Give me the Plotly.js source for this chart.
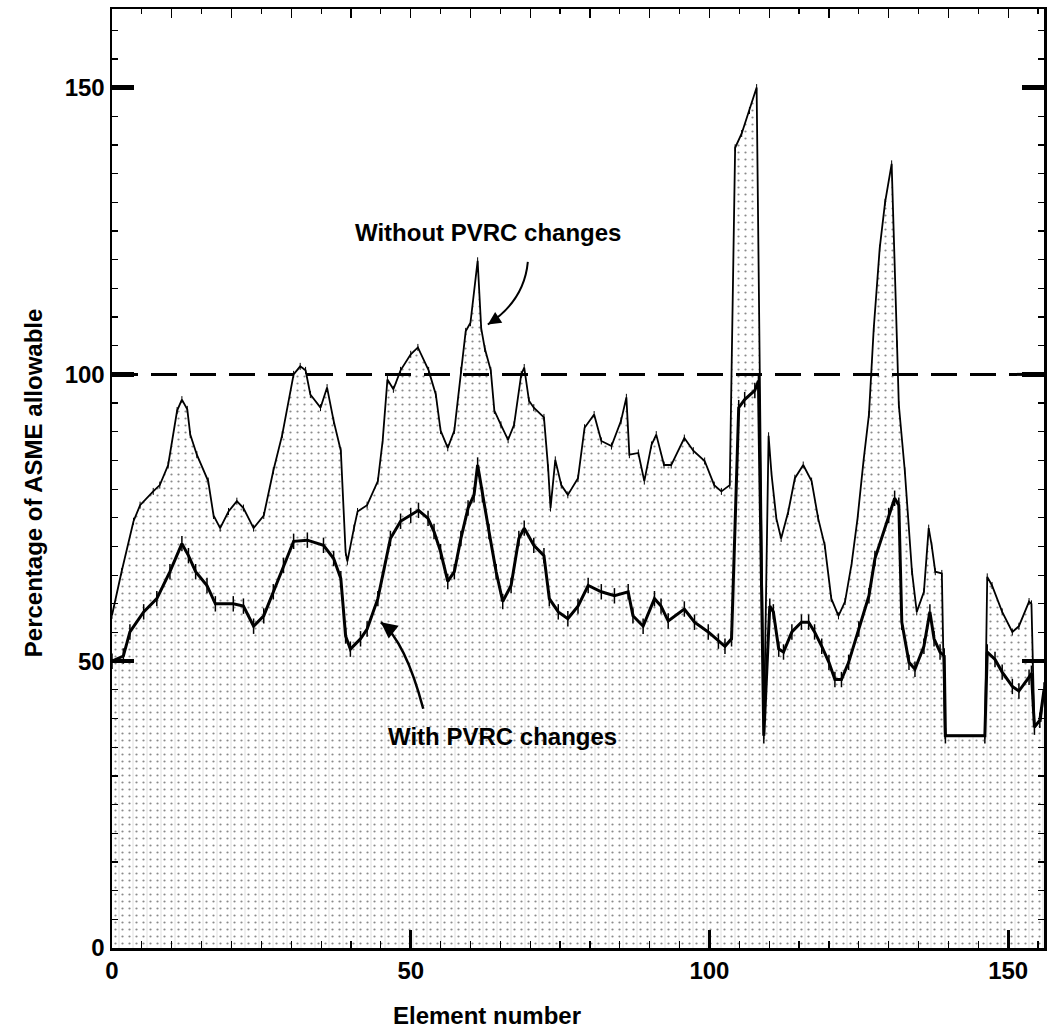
<!DOCTYPE html>
<html>
<head>
<meta charset="utf-8">
<script src="https://cdn.plot.ly/plotly-3.0.1.min.js"></script>
<style>
  html, body { margin: 0; padding: 0; background: #ffffff; }
  #chart { width: 1050px; height: 1035px; }
</style>
</head>
<body>
<div id="chart"></div>
<script>
// ---- Data: "Without PVRC changes" (upper curve) ----
const withoutX = [0, 1.6, 3.6, 4.7, 6.9, 8, 9.4, 10.9, 11.7, 12.6,
  13.1, 14.2, 16.1, 17, 18.1, 19.5, 20.9, 22, 23.7, 25.4,
  27, 28.5, 30.4, 31.5, 32.4, 33.2, 34.9, 36, 37.1, 38.3,
  39.1, 39.4, 40.5, 41.1, 42.7, 44.5, 45.3, 46.1, 47.1, 48.3,
  50, 51.2, 53, 54.2, 55, 56.2, 57.3, 58.4, 59.2, 60,
  61.2, 61.8, 62.4, 63.4, 64, 65.1, 66.3, 67.3, 68.5, 69,
  69.8, 70.6, 72.3, 73, 73.4, 74.2, 75.2, 76.3, 78, 79.1,
  80.7, 81.9, 83.6, 85.2, 86.1, 86.6, 88.1, 89.1, 90.3, 91.1,
  92.4, 93.6, 95.8, 97.3, 99.2, 100.8, 102, 103.4, 104.3, 105.4,
  106.7, 107.9, 109.1, 109.9, 110.4, 111.2, 112, 113.2, 114.3, 115.7,
  117.1, 118.2, 119.3, 120.4, 121.6, 122.7, 123.8, 124.8, 125.8, 126.7,
  127.5, 128.5, 129.4, 130.5, 131.4, 131.7, 132.7, 133.9, 134.7, 135.9,
  136.7, 137.2, 137.8, 138.9, 139.4, 146.1, 146.5, 147.3, 149, 150.7,
  151.8, 153.5, 153.9, 154.4, 155.5, 156];
const withoutY = [58, 65.6, 74.4, 77.2, 79.6, 80.7, 84.2, 93.7, 95.6, 93.9,
  89.5, 86, 81.4, 75.4, 73.2, 76.1, 77.9, 76.7, 73.2, 75.4,
  83.2, 89.5, 100, 101.4, 100.7, 96.5, 94.2, 97.7, 91.9, 86.7,
  69, 67.4, 73.2, 76.1, 77.2, 81.4, 88.4, 99.1, 97.4, 100.7,
  103.5, 104.7, 100.7, 96.5, 90.2, 87.2, 90.2, 100.7, 107.5, 109,
  119.8, 108, 104.5, 100.7, 93.7, 91.2, 88.6, 91.2, 100, 101.2,
  95.4, 94.2, 92.5, 83.7, 76.7, 85.1, 80.7, 79, 81.9, 90.7,
  93, 88.4, 87.5, 91.9, 96, 86, 86.3, 81.4, 87.7, 89.5,
  84.2, 84.2, 88.9, 86.7, 84.9, 80.7, 79.6, 80.7, 139.5, 142,
  146, 150, 37, 89.3, 82.5, 74.9, 71.4, 76.1, 81.9, 84.2,
  81.4, 74.9, 70.2, 60.9, 57.9, 60.4, 67, 75, 85, 93,
  108, 122, 130, 136.7, 105.3, 94.7, 83.2, 65.6, 58.6, 62.1,
  73.2, 70.2, 65.6, 65.3, 37, 37, 64.7, 63.2, 58.6, 55.1,
  56.1, 60.4, 60, 38.5, 40, 45];

// ---- Data: "With PVRC changes" (lower curve) ----
const withX = [0, 1.9, 3, 5.3, 7.5, 9.7, 11.7, 12.8, 14, 15.9,
  17.3, 20.3, 22, 23.7, 25.4, 27, 28.7, 30.4, 32.7, 35.4,
  37.1, 38.3, 39.1, 39.9, 41.6, 42.7, 44.5, 46.6, 48.3, 50,
  51.3, 52.9, 53.9, 55, 56.2, 57.3, 58.4, 59.6, 60.6, 61.2,
  62, 63.1, 64.3, 65.4, 66.8, 68.1, 69, 70.6, 72.3, 73.2,
  74.7, 76.3, 78, 79.7, 81.9, 84.1, 86.4, 87.2, 88.9, 90.8,
  91.9, 93.1, 95.8, 97.5, 99.8, 101.5, 102.6, 103.7, 104.9, 105.9,
  107.6, 108.2, 109.1, 110.1, 110.7, 111.6, 112.4, 113.8, 115.4, 116.6,
  117.6, 118.8, 120, 121, 122.1, 123.3, 125, 126.7, 127.7, 130,
  131, 131.7, 132.2, 133.4, 134.4, 135.9, 136.9, 137.6, 138.6, 139.3,
  139.5, 146.1, 146.5, 147.8, 149, 150.7, 151.8, 153.5, 153.9, 154.4,
  155.3, 156];
const withY = [50, 50.9, 55.1, 58.6, 60.9, 65.6, 70.5, 68.4, 65.6, 63.2,
  60, 60, 59.6, 56.1, 57.9, 62.1, 66.7, 70.9, 71.1, 70.2,
  67.9, 64.4, 54.4, 52.1, 53.9, 55.6, 60.9, 71.4, 74.4, 75.4,
  76.3, 74.9, 72.6, 69.1, 63.9, 65.6, 71.4, 76.7, 79, 84.2,
  79, 72.6, 65.6, 60.4, 63.2, 71.4, 73.2, 70.2, 68.4, 60.9,
  58.6, 57.4, 59.6, 63.2, 62.1, 61.4, 62.1, 57.9, 56.1, 60.9,
  59.6, 57, 59.1, 56.8, 55.1, 53.5, 52.6, 53.9, 94.2, 95.6,
  97.2, 98.9, 37, 59.6, 58.6, 52.1, 51.6, 55.1, 56.8, 56.8,
  55.1, 52.6, 49.8, 46.8, 46.8, 49.8, 55.6, 61.4, 67.9, 75.4,
  78.4, 77.2, 56.8, 49.8, 48.6, 52.6, 58.6, 53.9, 51.6, 50.9,
  37, 37, 51.6, 50.3, 48.1, 45.6, 44.8, 47.2, 47.9, 38.5,
  39.7, 45];

// ---- Axes / labels ----
const xRange = [0, 156];
const yRange = [0, 163.7];
const majorTicks = [0, 50, 100, 150];
const majorTickText = ['0', '50', '100', '150'];
const rightTicks = [50, 100, 150];
const allowableLimit = 100;
const labelWithout = 'Without PVRC changes';
const labelWith = 'With PVRC changes';
const xTitle = 'Element number';
const yTitle = 'Percentage of ASME allowable';

const FONT = '"Liberation Sans", Arial, sans-serif';

const traces = [
  {
    x: withoutX, y: withoutY, type: 'scatter', mode: 'lines+markers',
    line: { color: '#000', width: 1.8 },
    marker: { symbol: 'line-ns-open', size: 5, color: '#000', line: { color: '#000', width: 1 } },
    fill: 'tozeroy', fillcolor: 'rgba(0,0,0,0)',
    fillpattern: { shape: '.', fgcolor: '#8a8a8a', bgcolor: 'rgba(0,0,0,0)', size: 7, solidity: 0.08 },
    hoverinfo: 'skip', showlegend: false
  },
  {
    x: withX, y: withY, type: 'scatter', mode: 'lines+markers',
    line: { color: '#000', width: 3 },
    marker: { symbol: 'line-ns-open', size: 11, color: '#000', line: { color: '#000', width: 1.5 } },
    fill: 'tozeroy', fillcolor: 'rgba(0,0,0,0)',
    fillpattern: { shape: '|', fgcolor: '#c4c4c4', bgcolor: 'rgba(0,0,0,0)', size: 14, solidity: 0.04 },
    hoverinfo: 'skip', showlegend: false
  },
  {
    x: [xRange[0]], y: [yRange[0]], xaxis: 'x2', yaxis: 'y2', type: 'scatter', mode: 'markers',
    marker: { opacity: 0 }, hoverinfo: 'skip', showlegend: false
  }
];

const layout = {
  width: 1050, height: 1035,
  margin: { l: 112, r: 6, t: 9, b: 87 },
  paper_bgcolor: '#fff', plot_bgcolor: '#fff',
  showlegend: false,
  xaxis: {
    range: xRange, showgrid: false, zeroline: false,
    showline: true, linecolor: '#000', linewidth: 2.5,
    tickmode: 'array', tickvals: majorTicks, ticktext: majorTickText,
    ticks: 'inside', ticklen: 18, tickwidth: 3, tickcolor: '#000',
    minor: { ticks: 'inside', dtick: 5, tick0: 0, ticklen: 7, tickwidth: 1.2, tickcolor: '#000', showgrid: false },
    tickfont: { family: FONT, size: 24, weight: 700, color: '#000' }
  },
  xaxis2: {
    overlaying: 'x', side: 'top', range: xRange, showgrid: false, zeroline: false,
    showline: true, linecolor: '#000', linewidth: 2.5,
    tickmode: 'linear', tick0: 0, dtick: 10, ticks: 'inside', ticklen: 9, tickwidth: 1.2, tickcolor: '#000',
    minor: { ticks: 'inside', dtick: 5, tick0: 0, ticklen: 5, tickwidth: 1.2, tickcolor: '#000', showgrid: false },
    showticklabels: false
  },
  yaxis: {
    range: yRange, showgrid: false, zeroline: false,
    showline: true, linecolor: '#000', linewidth: 2.5,
    tickmode: 'array', tickvals: majorTicks, ticktext: majorTickText,
    ticks: 'inside', ticklen: 22, tickwidth: 4.5, tickcolor: '#000',
    minor: { ticks: 'inside', dtick: 5, tick0: 0, ticklen: 6, tickwidth: 1.2, tickcolor: '#000', showgrid: false },
    tickfont: { family: FONT, size: 24, weight: 700, color: '#000' }
  },
  yaxis2: {
    overlaying: 'y', side: 'right', range: yRange, showgrid: false, zeroline: false,
    showline: true, linecolor: '#000', linewidth: 2.5,
    tickmode: 'array', tickvals: rightTicks,
    ticks: 'inside', ticklen: 22, tickwidth: 4.5, tickcolor: '#000',
    minor: { ticks: 'inside', dtick: 5, tick0: 0, ticklen: 6, tickwidth: 1.2, tickcolor: '#000', showgrid: false },
    showticklabels: false
  },
  shapes: [
    { type: 'line', xref: 'paper', x0: 0, x1: 1, yref: 'y', y0: allowableLimit, y1: allowableLimit,
      line: { color: '#000', width: 3, dash: '26px,13px' } },
    { type: 'path', xref: 'x', yref: 'y', path: 'M 69.6,119.6 Q 69,112.8 62.9,108.7',
      line: { color: '#000', width: 2 } },
    { type: 'path', xref: 'x', yref: 'y', path: 'M 52.1,41.7 Q 49.1,53.5 45,56.8',
      line: { color: '#000', width: 2.5 } }
  ],
  annotations: [
    { text: labelWithout, xref: 'x', yref: 'y', x: 62.9, y: 124.8, showarrow: false,
      xanchor: 'center', yanchor: 'middle', font: { family: FONT, size: 24, weight: 700, color: '#000' } },
    { text: labelWith, xref: 'x', yref: 'y', x: 65.4, y: 36.8, showarrow: false,
      xanchor: 'center', yanchor: 'middle', font: { family: FONT, size: 24, weight: 700, color: '#000' } },
    { text: '', xref: 'x', yref: 'y', x: 62.9, y: 108.7, showarrow: true, ax: 10, ay: -6.5,
      arrowhead: 2, arrowsize: 1.3, arrowwidth: 2, arrowcolor: '#000', standoff: 0 },
    { text: '', xref: 'x', yref: 'y', x: 45, y: 56.8, showarrow: true, ax: 9, ay: 7,
      arrowhead: 2, arrowsize: 1.3, arrowwidth: 2.5, arrowcolor: '#000', standoff: 0 },
    { text: xTitle, xref: 'paper', yref: 'paper', x: 0.402, y: -0.0714, showarrow: false,
      xanchor: 'center', yanchor: 'middle', font: { family: FONT, size: 24, weight: 700, color: '#000' } },
    { text: yTitle, xref: 'paper', yref: 'paper', x: -0.0848, y: 0.496, showarrow: false, textangle: -90,
      xanchor: 'center', yanchor: 'middle', font: { family: FONT, size: 24, weight: 700, color: '#000' } }
  ]
};

Plotly.newPlot('chart', traces, layout, { staticPlot: true, displayModeBar: false });
</script>
</body>
</html>
